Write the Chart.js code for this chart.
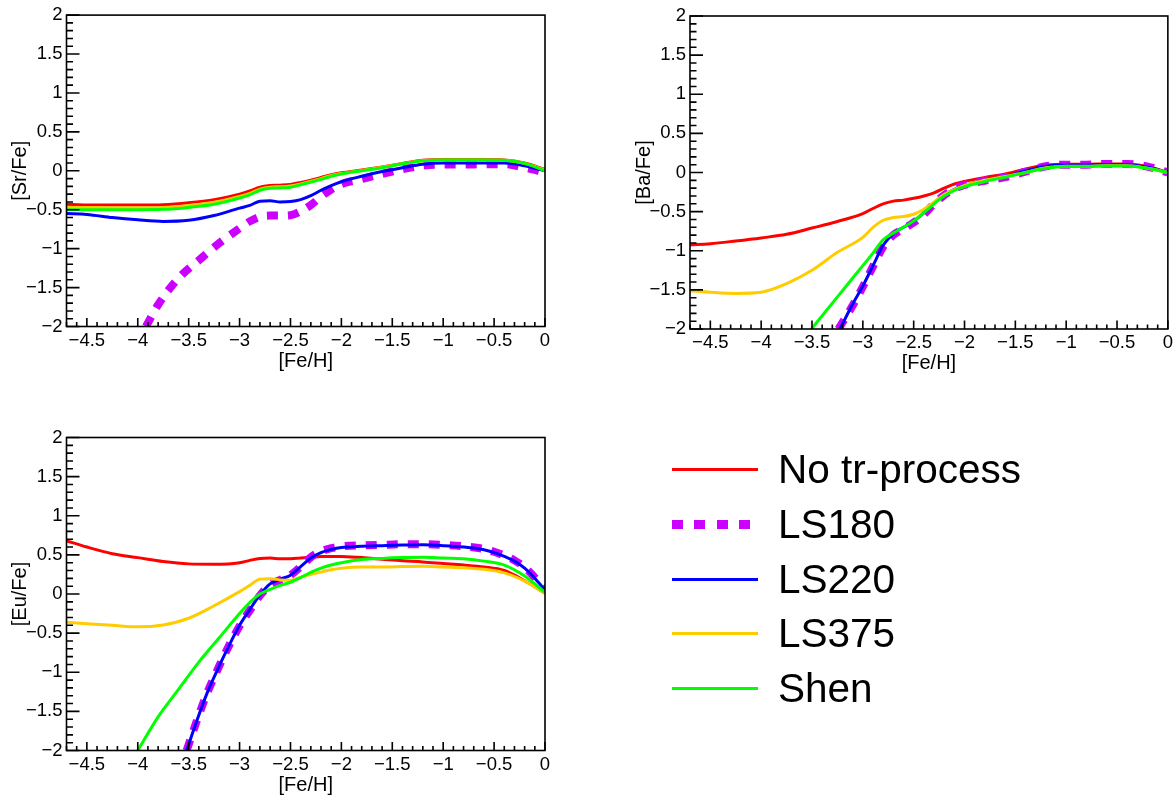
<!DOCTYPE html>
<html>
<head>
<meta charset="utf-8">
<script src="https://cdn.jsdelivr.net/npm/chart.js@4.4.1/dist/chart.umd.min.js"></script>
<style>
  html, body { margin: 0; padding: 0; background: #fff; width: 1176px; height: 800px; overflow: hidden; }
  canvas.panel { position: absolute; }
  #legend { position: absolute; left: 0; top: 0; width: 1176px; height: 800px; pointer-events: none;
            font-family: "Liberation Sans", Arial, Helvetica, sans-serif; }
  .sample { position: absolute; left: 672px; width: 86px; }
  .entry { position: absolute; left: 778px; font-size: 40.5px; line-height: 40px; color: #000; white-space: nowrap; }
</style>
</head>
<body>
<canvas id="srPanel" class="panel" style="left:0px;top:0px" width="590" height="380"></canvas>
<canvas id="baPanel" class="panel" style="left:624px;top:0px" width="552" height="380"></canvas>
<canvas id="euPanel" class="panel" style="left:0px;top:422px" width="590" height="380"></canvas>
<div id="legend"></div>
<script>
// ---- model names and styles ----
const models = ['No tr-process', 'LS180', 'LS220', 'LS375', 'Shen'];
const modelColors = ['#ff0000', '#cc00ff', '#0000ff', '#ffcc00', '#00ff00'];

// ---- axis ticks ----
const fehTicks = [-4.5, -4, -3.5, -3, -2.5, -2, -1.5, -1, -0.5, 0];
const ratioTicks = [-2, -1.5, -1, -0.5, 0, 0.5, 1, 1.5, 2];

// ---- common [Fe/H] grid ----
const feh = [-4.7, -4.5, -4.25, -4.0, -3.75, -3.5, -3.25, -3.0, -2.9, -2.8, -2.7, -2.6, -2.5, -2.4,
             -2.3, -2.2, -2.1, -2.0, -1.8, -1.6, -1.4, -1.2, -1.0, -0.8, -0.6, -0.4, -0.2, 0];

// ---- [Sr/Fe] ----
const srNoTr  = [-0.43, -0.44, -0.44, -0.44, -0.435, -0.41, -0.37, -0.30, -0.26, -0.21, -0.19, -0.185, -0.175, -0.15,
                 -0.12, -0.085, -0.05, -0.025, 0.01, 0.05, 0.095, 0.135, 0.145, 0.145, 0.145, 0.14, 0.10, 0.02];
const srLS180Feh = [-3.92, -3.8, -3.6, -3.4, -3.2, -3.0, -2.9, -2.8, -2.7, -2.6, -2.5, -2.4, -2.3, -2.2, -2.1, -2.0,
                    -1.8, -1.6, -1.4, -1.2, -1.0, -0.8, -0.6, -0.4, -0.2, 0];
const srLS180 = [-2.0, -1.72, -1.38, -1.15, -0.93, -0.74, -0.65, -0.59, -0.575, -0.575, -0.57, -0.52, -0.44, -0.33, -0.24, -0.17,
                 -0.105, -0.04, 0.02, 0.065, 0.08, 0.08, 0.085, 0.085, 0.04, -0.02];
const srLS220 = [-0.55, -0.56, -0.60, -0.63, -0.65, -0.635, -0.575, -0.48, -0.445, -0.39, -0.385, -0.40, -0.395, -0.37,
                 -0.32, -0.25, -0.19, -0.14, -0.07, -0.01, 0.04, 0.085, 0.10, 0.10, 0.10, 0.10, 0.065, 0.0];
const srLS375 = [-0.47, -0.47, -0.475, -0.475, -0.47, -0.445, -0.405, -0.33, -0.29, -0.235, -0.21, -0.205, -0.195, -0.17,
                 -0.135, -0.10, -0.06, -0.035, 0.005, 0.045, 0.09, 0.13, 0.14, 0.14, 0.14, 0.135, 0.095, 0.01];
const srShen  = [-0.50, -0.50, -0.50, -0.50, -0.495, -0.47, -0.43, -0.35, -0.31, -0.25, -0.225, -0.22, -0.21, -0.18,
                 -0.145, -0.11, -0.07, -0.04, 0.0, 0.04, 0.09, 0.13, 0.14, 0.14, 0.14, 0.135, 0.095, 0.0];

// ---- [Ba/Fe] ----
const baNoTr  = [-0.925, -0.91, -0.875, -0.836, -0.79, -0.71, -0.626, -0.525, -0.46, -0.40, -0.366, -0.353, -0.33, -0.30,
                 -0.26, -0.20, -0.147, -0.113, -0.063, -0.02, 0.042, 0.097, 0.105, 0.105, 0.11, 0.11, 0.076, 0.0];
const baLS180Feh = [-3.24, -3.1, -3.0, -2.9, -2.8, -2.7, -2.6, -2.5, -2.4, -2.3, -2.2, -2.1, -2.0,
                    -1.8, -1.6, -1.4, -1.2, -1.0, -0.8, -0.6, -0.4, -0.2, 0];
const baLS180 = [-2.0, -1.70, -1.46, -1.20, -0.95, -0.80, -0.72, -0.64, -0.535, -0.40, -0.29, -0.21, -0.16,
                 -0.105, -0.06, 0.01, 0.08, 0.10, 0.10, 0.11, 0.11, 0.075, 0.0];
const baLS220Feh = [-3.225, -3.1, -3.0, -2.9, -2.8, -2.7, -2.6, -2.5, -2.4, -2.3, -2.2, -2.1, -2.0,
                    -1.8, -1.6, -1.4, -1.2, -1.0, -0.8, -0.6, -0.4, -0.2, 0];
const baLS220 = [-2.0, -1.68, -1.45, -1.19, -0.93, -0.78, -0.70, -0.62, -0.515, -0.39, -0.285, -0.215, -0.165,
                 -0.10, -0.05, 0.02, 0.08, 0.097, 0.097, 0.10, 0.10, 0.067, 0.0];
const baLS375 = [-1.51, -1.53, -1.545, -1.53, -1.42, -1.25, -1.02, -0.83, -0.70, -0.61, -0.575, -0.563, -0.534, -0.47,
                 -0.378, -0.28, -0.22, -0.164, -0.10, -0.05, 0.0, 0.06, 0.08, 0.08, 0.085, 0.085, 0.055, 0.0];
const baShenFeh = [-3.505, -3.25, -3.0, -2.9, -2.8, -2.7, -2.6, -2.5, -2.4, -2.3, -2.2, -2.1, -2.0,
                   -1.8, -1.6, -1.4, -1.2, -1.0, -0.8, -0.6, -0.4, -0.2, 0];
const baShen  = [-2.0, -1.59, -1.19, -1.03, -0.86, -0.775, -0.70, -0.62, -0.515, -0.40, -0.30, -0.23, -0.18,
                 -0.115, -0.06, 0.0, 0.055, 0.076, 0.076, 0.084, 0.084, 0.055, 0.0];

// ---- [Eu/Fe] ----
const euNoTr  = [0.68, 0.60, 0.515, 0.465, 0.415, 0.385, 0.38, 0.40, 0.43, 0.455, 0.46, 0.45, 0.45, 0.46,
                 0.47, 0.48, 0.48, 0.478, 0.465, 0.445, 0.425, 0.41, 0.39, 0.37, 0.345, 0.30, 0.17, 0.01];
const euSteepFeh = [-3.52, -3.42, -3.32, -3.2, -3.1, -3.0, -2.9, -2.8, -2.7, -2.6, -2.5, -2.4, -2.3, -2.2, -2.1, -2.0,
                    -1.8, -1.6, -1.4, -1.2, -1.0, -0.8, -0.6, -0.5, -0.4, -0.3, -0.2, -0.1, 0];
const euLS180 = [-2.0, -1.62, -1.27, -0.92, -0.65, -0.41, -0.21, -0.02, 0.12, 0.18, 0.24, 0.35, 0.47, 0.545, 0.585, 0.61,
                 0.62, 0.628, 0.635, 0.635, 0.628, 0.61, 0.575, 0.54, 0.49, 0.43, 0.34, 0.21, 0.05];
const euLS220 = [-2.0, -1.62, -1.27, -0.92, -0.65, -0.40, -0.20, -0.01, 0.13, 0.19, 0.24, 0.35, 0.46, 0.53, 0.57, 0.595,
                 0.61, 0.618, 0.625, 0.628, 0.618, 0.60, 0.565, 0.53, 0.48, 0.42, 0.33, 0.20, 0.05];
const euLS375 = [-0.36, -0.38, -0.40, -0.42, -0.395, -0.31, -0.15, 0.03, 0.11, 0.19, 0.195, 0.18, 0.175, 0.215,
                 0.25, 0.28, 0.31, 0.33, 0.345, 0.345, 0.352, 0.356, 0.345, 0.335, 0.315, 0.27, 0.165, 0.01];
const euShenFeh = [-4.0, -3.8, -3.6, -3.4, -3.2, -3.0, -2.9, -2.8, -2.7, -2.6, -2.5, -2.4, -2.3, -2.2, -2.1, -2.0,
                   -1.8, -1.6, -1.4, -1.2, -1.0, -0.8, -0.6, -0.4, -0.2, 0];
const euShen  = [-2.0, -1.57, -1.22, -0.87, -0.56, -0.25, -0.11, 0.0, 0.06, 0.11, 0.15, 0.21, 0.275, 0.33, 0.37, 0.40,
                 0.44, 0.455, 0.465, 0.47, 0.46, 0.45, 0.42, 0.37, 0.23, 0.02];

// ---- drawing helpers ----
const FONT = '"Liberation Sans", Arial, Helvetica, sans-serif';
const fmt = v => (v === 0 ? '0' : String(+v.toFixed(2)).replace('-', '\u2212'));

// ROOT-style frame: box plus inward major/minor ticks
const frameTicks = {
  id: 'frameTicks',
  afterDatasetsDraw(chart) {
    const { ctx, chartArea: a, scales: { x, y } } = chart;
    ctx.save();
    ctx.strokeStyle = '#000';
    ctx.lineWidth = 1.6;
    ctx.beginPath();
    for (let i = Math.ceil(x.min * 10 - 1e-6); i <= Math.floor(x.max * 10 + 1e-6); i++) {
      const px = x.getPixelForValue(i / 10);
      const len = i % 5 === 0 ? 8.5 : 4.5;
      ctx.moveTo(px, a.bottom);
      ctx.lineTo(px, a.bottom - len);
    }
    for (let j = Math.ceil(y.min * 10 - 1e-6); j <= Math.floor(y.max * 10 + 1e-6); j++) {
      const py = y.getPixelForValue(j / 10);
      const len = j % 5 === 0 ? 13 : 6.5;
      ctx.moveTo(a.left, py);
      ctx.lineTo(a.left + len, py);
    }
    ctx.stroke();
    ctx.strokeRect(a.left, a.top, a.right - a.left, a.bottom - a.top);
    ctx.restore();
  }
};

function series(xs, ys, idx) {
  const dashed = idx === 1;
  return {
    label: models[idx],
    data: xs.map((v, i) => ({ x: v, y: ys[i] })),
    borderColor: modelColors[idx],
    backgroundColor: modelColors[idx],
    borderWidth: dashed ? 8 : 3,
    borderDash: dashed ? [11, 10] : [],
    borderJoinStyle: dashed ? 'miter' : 'round',
    pointRadius: 0,
    fill: false,
    cubicInterpolationMode: 'monotone',
    order: 5 - idx
  };
}

function panel(id, yTitle, geo, datasets) {
  const tickFont = { family: FONT, size: 18.5 };
  const titleFont = { family: FONT, size: 20 };
  return new Chart(document.getElementById(id), {
    type: 'line',
    data: { datasets },
    options: {
      responsive: false,
      animation: false,
      devicePixelRatio: 1,
      layout: { padding: { left: 0, top: geo.top, right: geo.right, bottom: 0 } },
      plugins: { legend: { display: false }, tooltip: { enabled: false } },
      scales: {
        x: {
          type: 'linear', min: -4.7, max: 0,
          afterBuildTicks: s => { s.ticks = fehTicks.map(v => ({ value: v })); },
          afterFit: s => { s.height = geo.xh; },
          grid: { display: false, drawTicks: false },
          border: { display: false },
          ticks: { callback: fmt, font: tickFont, color: '#000', padding: 3, maxRotation: 0, autoSkip: false },
          title: { display: true, text: '[Fe/H]', font: titleFont, color: '#000', padding: { top: 0, bottom: geo.xt } }
        },
        y: {
          type: 'linear', min: -2, max: 2,
          afterBuildTicks: s => { s.ticks = ratioTicks.map(v => ({ value: v })); },
          afterFit: s => { s.width = geo.yw; },
          grid: { display: false, drawTicks: false },
          border: { display: false },
          ticks: { callback: fmt, font: tickFont, color: '#000', padding: 4, autoSkip: false },
          title: { display: true, text: yTitle, font: titleFont, color: '#000', padding: { top: 8, bottom: 0 } }
        }
      }
    },
    plugins: [frameTicks]
  });
}

panel('srPanel', '[Sr/Fe]', { top: 13.5, right: 45, xh: 53.5, yw: 66.5, xt: 7 }, [
  series(feh, srNoTr, 0),
  series(srLS180Feh, srLS180, 1),
  series(feh, srLS220, 2),
  series(feh, srLS375, 3),
  series(feh, srShen, 4)
]);

panel('baPanel', '[Ba/Fe]', { top: 16, right: 8, xh: 51, yw: 66, xt: 5 }, [
  series(feh, baNoTr, 0),
  series(baLS180Feh, baLS180, 1),
  series(baLS220Feh, baLS220, 2),
  series(feh, baLS375, 3),
  series(baShenFeh, baShen, 4)
]);

panel('euPanel', '[Eu/Fe]', { top: 15.5, right: 45, xh: 51.5, yw: 66.5, xt: 5 }, [
  series(feh, euNoTr, 0),
  series(euSteepFeh, euLS180, 1),
  series(euSteepFeh, euLS220, 2),
  series(feh, euLS375, 3),
  series(euShenFeh, euShen, 4)
]);

// ---- legend ----
const legendRowY = [469, 524, 579, 633, 688];
const legend = document.getElementById('legend');
models.forEach((name, i) => {
  const s = document.createElement('div');
  s.className = 'sample';
  if (i === 1) {
    s.style.height = '9px';
    s.style.top = (legendRowY[i] - 4.5) + 'px';
    s.style.background = 'repeating-linear-gradient(to right, ' + modelColors[i] + ' 0 11px, transparent 11px 22.5px)';
  } else {
    s.style.height = '3px';
    s.style.top = (legendRowY[i] - 1.5) + 'px';
    s.style.background = modelColors[i];
  }
  legend.appendChild(s);
  const t = document.createElement('div');
  t.className = 'entry';
  t.style.top = (legendRowY[i] - 20.5) + 'px';
  t.textContent = name;
  legend.appendChild(t);
});
</script>
</body>
</html>
